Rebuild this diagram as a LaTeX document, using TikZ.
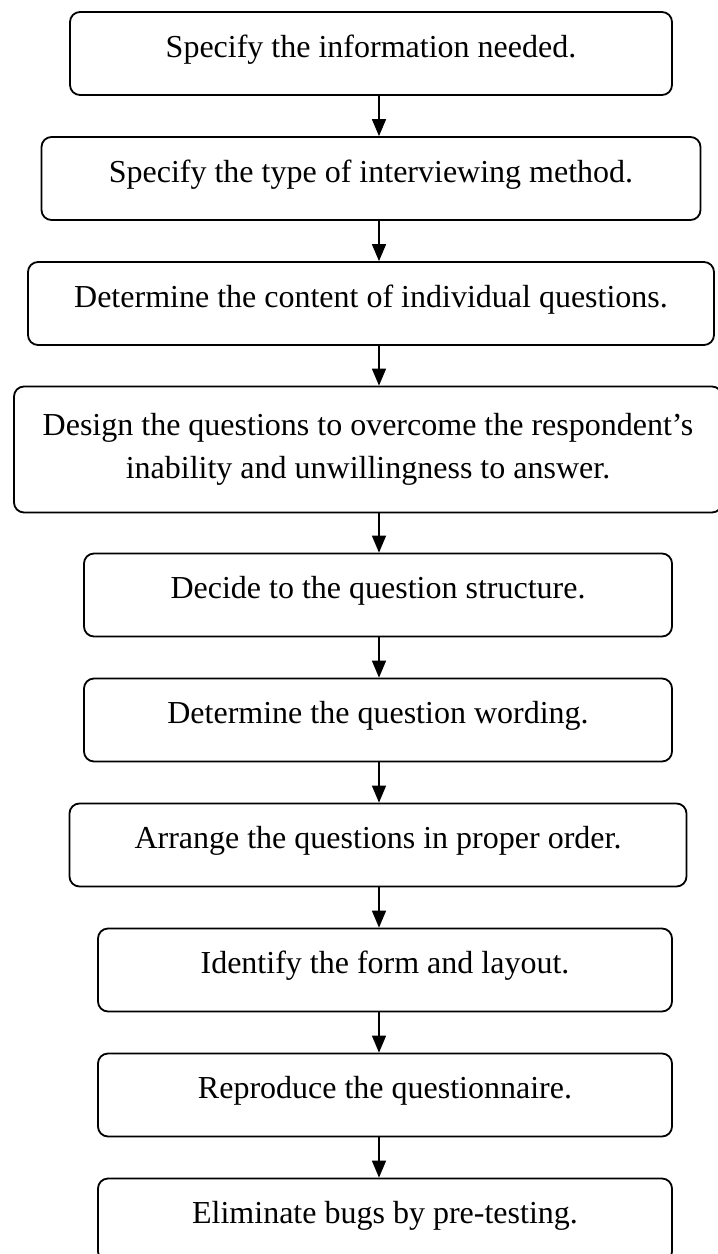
\documentclass[tikz,border=0pt]{standalone}
\usepackage{fontspec}
\setmainfont{Liberation Serif}
\usepackage{tikz}
\usetikzlibrary{arrows.meta}

\begin{document}
\begin{tikzpicture}
\tikzstyle{stepbox} = [draw, rounded corners=5pt, line width=0.9pt, minimum height=41.5pt, inner sep=0pt, text height=11pt, text depth=7.5pt, font=\fontsize{16}{21.5}\selectfont, node distance=62.5pt]
\tikzstyle{bigbox} = [draw, rounded corners=5pt, line width=0.9pt, minimum height=63pt, inner sep=0pt, align=center, font=\fontsize{16}{21.5}\selectfont]
\tikzstyle{arr} = [line width=0.8pt, -{Triangle[length=8.5pt,width=7pt]}]

\useasboundingbox (0,0) rectangle (359pt,-627pt);

\node[stepbox,minimum width=301pt] (specify) at (185.5pt,-26.75pt) {Specify the information needed.};
\node[stepbox,minimum width=329.5pt,below of=specify] (method) {Specify the type of interviewing method.};
\node[stepbox,minimum width=343pt,below of=method] (content) {Determine the content of individual questions.};
\node[bigbox,minimum width=354pt,node distance=73pt,below of=content,xshift=-1.5pt] (design) {Design the questions to overcome the respondent’s\\inability and unwillingness to answer.};
\node[stepbox,minimum width=294pt,node distance=72.75pt,below of=design,xshift=5pt] (structure) {Decide to the question structure.};
\node[stepbox,minimum width=294pt,below of=structure] (wording) {Determine the question wording.};
\node[stepbox,minimum width=308.5pt,below of=wording] (order) {Arrange the questions in proper order.};
\node[stepbox,minimum width=287pt,below of=order,xshift=3.5pt] (layout) {Identify the form and layout.};
\node[stepbox,minimum width=287pt,below of=layout] (reproduce) {Reproduce the questionnaire.};
\node[stepbox,minimum width=287pt,below of=reproduce] (bugs) {Eliminate bugs by pre-testing.};

\coordinate (ax) at (189.5pt,0);

\draw[arr] (specify.south -| ax) -- (method.north -| ax);
\draw[arr] (method.south -| ax) -- (content.north -| ax);
\draw[arr] (content.south -| ax) -- (design.north -| ax);
\draw[arr] (design.south -| ax) -- (structure.north -| ax);
\draw[arr] (structure.south -| ax) -- (wording.north -| ax);
\draw[arr] (wording.south -| ax) -- (order.north -| ax);
\draw[arr] (order.south -| ax) -- (layout.north -| ax);
\draw[arr] (layout.south -| ax) -- (reproduce.north -| ax);
\draw[arr] (reproduce.south -| ax) -- (bugs.north -| ax);

\end{tikzpicture}
\end{document}
